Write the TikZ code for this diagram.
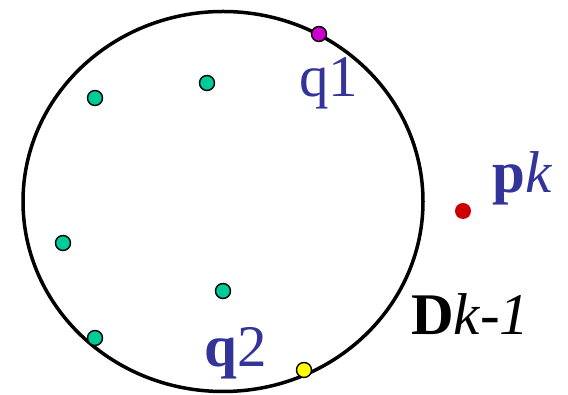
\documentclass[tikz,border=0pt]{standalone}
\usepackage{fontspec}
\setmainfont{Liberation Serif}
\usepackage{xcolor}
\definecolor{LabelBlue}{HTML}{333399}
\definecolor{PointGreen}{HTML}{00CC99}
\definecolor{PointMagenta}{HTML}{CC00CC}
\definecolor{PointYellow}{HTML}{FFFF00}
\definecolor{PointRed}{HTML}{CC0000}
\usetikzlibrary{positioning}

\begin{document}
\begin{tikzpicture}[
  x=1pt, y=1pt,
  disk/.style={draw=black, line width=3.5pt},
  pt/.style={
    circle, draw=black, line width=1.4pt,
    minimum size=15pt, inner sep=0pt
  },
  newpt/.style={
    circle, fill=PointRed,
    minimum size=16pt, inner sep=0pt
  },
  lbl/.style={
    anchor=base west, inner sep=0pt,
    font=\fontsize{59}{62}\selectfont
  },
]
\useasboundingbox (0,0) rectangle (568,395);

% Disk D_{k-1}
\coordinate (c) at (223,193.5);
\draw[disk] (c) ellipse [x radius=200, y radius=190];

% Points inside the disk
\node[pt, fill=PointGreen] (g1) at (95,297) {};
\node[pt, fill=PointGreen] (g2) at (207,312) {};
\node[pt, fill=PointGreen] (g3) at (63,152) {};
\node[pt, fill=PointGreen] (g4) at (223,104) {};
\node[pt, fill=PointGreen] (g5) at (95,57) {};

% Boundary points
\node[pt, fill=PointMagenta] (q1) at (319,361) {};
\node[pt, fill=PointYellow] (q2) at (304,25) {};

% New point
\node[newpt] (pk) at (463,184) {};

% Labels
\node[lbl, text=LabelBlue] (q1lbl) at (299,298) {q1};
\node[lbl, text=LabelBlue] (q2lbl) at (204,28) {\textbf{q}2};
\node[lbl, text=LabelBlue] (pklbl) at (492,202) {\textbf{p}\textit{k}};
\node[lbl, text=black] (dlbl) at (411,60) {\textbf{D}\textit{k-1}};

\end{tikzpicture}
\end{document}
